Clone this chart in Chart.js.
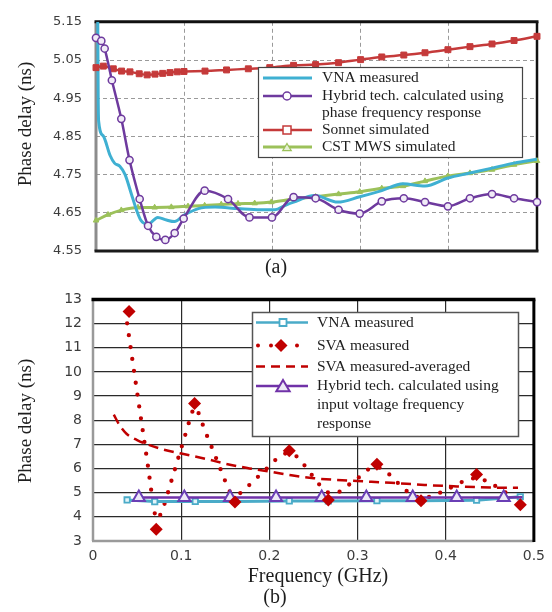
<!DOCTYPE html>
<html><head><meta charset="utf-8">
<script src="https://cdn.jsdelivr.net/npm/chart.js@4.4.1/dist/chart.umd.min.js"></script>
<style>
html,body{margin:0;padding:0;background:#fff;}
#wrap{position:relative;width:552px;height:612px;background:#fff;}
#ca{position:absolute;left:0;top:0;width:552px;height:280px;}
#cb{position:absolute;left:0;top:280px;width:552px;height:332px;}
</style></head><body>
<div id="wrap"><canvas id="ca" width="552" height="280"></canvas><canvas id="cb" width="552" height="332"></canvas></div>
<script>
// ---------- (a) data ----------
const aFreqTicks = [0, 0.1, 0.2, 0.3, 0.4, 0.5];
const aDelayTicks = [4.55, 4.65, 4.75, 4.85, 4.95, 5.05, 5.15];
const aDelayLabels = ['4.55', '4.65', '4.75', '4.85', '4.95', '5.05', '5.15'];
const aLegendText = [['VNA measured'], ['Hybrid tech. calculated using', 'phase frequency response'], ['Sonnet simulated'], ['CST MWS simulated']];

const aVnaF = [0.002, 0.0025, 0.003, 0.008, 0.016, 0.021, 0.027, 0.033, 0.040, 0.046, 0.051, 0.059, 0.070, 0.080, 0.089, 0.100, 0.116, 0.135, 0.161, 0.187, 0.203, 0.214, 0.224, 0.248, 0.274, 0.299, 0.324, 0.348, 0.373, 0.399, 0.424, 0.449, 0.474, 0.500];
const aVnaV = [5.15, 4.95, 4.89, 4.852, 4.80, 4.78, 4.772, 4.75, 4.70, 4.657, 4.63, 4.62, 4.638, 4.631, 4.627, 4.644, 4.661, 4.665, 4.661, 4.658, 4.658, 4.669, 4.678, 4.695, 4.678, 4.692, 4.708, 4.726, 4.720, 4.741, 4.754, 4.767, 4.780, 4.790];

const aHybF = [0, 0.006, 0.0098, 0.018, 0.0287, 0.038, 0.0495, 0.059, 0.0684, 0.0786, 0.0892, 0.0994, 0.1232, 0.1497, 0.174, 0.1995, 0.224, 0.249, 0.275, 0.299, 0.324, 0.349, 0.373, 0.399, 0.424, 0.449, 0.474, 0.500];
const aHybV = [5.108, 5.100, 5.080, 4.997, 4.896, 4.788, 4.686, 4.616, 4.587, 4.579, 4.597, 4.635, 4.708, 4.686, 4.638, 4.638, 4.691, 4.688, 4.658, 4.648, 4.680, 4.688, 4.678, 4.667, 4.688, 4.699, 4.688, 4.678];

const aSonF = [0, 0.0083, 0.0196, 0.029, 0.0385, 0.049, 0.058, 0.0669, 0.0756, 0.0839, 0.0922, 0.0998, 0.1236, 0.148, 0.1727, 0.197, 0.224, 0.249, 0.275, 0.300, 0.324, 0.349, 0.373, 0.399, 0.424, 0.449, 0.474, 0.500];
const aSonV = [5.030, 5.034, 5.027, 5.021, 5.019, 5.014, 5.011, 5.013, 5.015, 5.017, 5.019, 5.020, 5.021, 5.024, 5.027, 5.030, 5.036, 5.038, 5.043, 5.051, 5.058, 5.063, 5.069, 5.077, 5.085, 5.092, 5.101, 5.112];

const aCstF = [0, 0.0136, 0.0287, 0.0476, 0.0665, 0.0854, 0.1043, 0.1232, 0.142, 0.161, 0.1799, 0.1988, 0.224, 0.249, 0.275, 0.299, 0.324, 0.348, 0.373, 0.399, 0.424, 0.449, 0.474, 0.500];
const aCstV = [4.630, 4.645, 4.657, 4.664, 4.664, 4.665, 4.667, 4.669, 4.672, 4.674, 4.675, 4.678, 4.686, 4.692, 4.699, 4.705, 4.714, 4.720, 4.733, 4.746, 4.754, 4.763, 4.776, 4.786];

// ---------- (b) data ----------
const bFreqTicks = [0, 0.1, 0.2, 0.3, 0.4, 0.5];
const bFreqLabels = ['0', '0.1', '0.2', '0.3', '0.4', '0.5'];
const bDelayTicks = [3, 4, 5, 6, 7, 8, 9, 10, 11, 12, 13];
const bDelayLabels = ['3', '4', '5', '6', '7', '8', '9', '10', '11', '12', '13'];
const bLegendText = [['VNA measured'], ['SVA measured'], ['SVA measured-averaged'], ['Hybrid tech. calculated using', 'input voltage frequency', 'response']];

const bVnaF = [0.0387, 0.070, 0.116, 0.161, 0.2226, 0.2669, 0.322, 0.372, 0.435, 0.4846];
const bVnaV = [4.70, 4.63, 4.64, 4.64, 4.66, 4.66, 4.67, 4.67, 4.69, 4.83];

const bSvaF = [0.0409, 0.0717, 0.1152, 0.161, 0.2226, 0.2669, 0.322, 0.372, 0.435, 0.4846];
const bSvaV = [12.5, 3.49, 8.69, 4.61, 6.74, 4.70, 6.18, 4.67, 5.75, 4.50];

const bSvaTraceF = [0.0387, 0.0447, 0.0507, 0.0567, 0.0627, 0.0664, 0.0700, 0.0735, 0.0765, 0.0807, 0.0886, 0.0965, 0.1047, 0.1100, 0.1135, 0.1160, 0.1190, 0.1227, 0.1276, 0.1329, 0.1382, 0.1430, 0.1486, 0.1535, 0.1580, 0.1630, 0.1693, 0.1798, 0.1907, 0.2005, 0.2106, 0.2190, 0.2260, 0.2339, 0.2429, 0.2520, 0.2605, 0.2670, 0.2740, 0.2811, 0.2930, 0.3044, 0.3130, 0.3220, 0.3300, 0.3382, 0.3500, 0.3607, 0.3700, 0.3833, 0.3964, 0.4100, 0.4227, 0.4350, 0.4501, 0.4620, 0.4741];
const bSvaTraceV = [12.01, 10.49, 8.99, 7.50, 6.00, 5.00, 4.15, 3.90, 4.10, 4.49, 5.45, 6.41, 7.40, 8.05, 8.42, 8.52, 8.35, 7.99, 7.51, 7.04, 6.56, 6.12, 5.61, 5.14, 4.95, 4.93, 5.04, 5.41, 5.78, 6.12, 6.47, 6.62, 6.60, 6.40, 5.98, 5.55, 5.18, 5.00, 4.98, 5.07, 5.41, 5.71, 5.98, 6.05, 5.95, 5.68, 5.25, 4.94, 4.82, 4.83, 5.05, 5.28, 5.51, 5.60, 5.41, 5.14, 4.87];

const bSvaAvgF = [0.0236, 0.030, 0.038, 0.050, 0.0755, 0.100, 0.128, 0.150, 0.175, 0.200, 0.225, 0.250, 0.275, 0.300, 0.338, 0.376, 0.413, 0.451, 0.482];
const bSvaAvgV = [8.23, 7.80, 7.44, 7.18, 6.83, 6.62, 6.40, 6.20, 6.02, 5.88, 5.72, 5.60, 5.53, 5.48, 5.41, 5.32, 5.26, 5.21, 5.20];

const bHybF = [0.052, 0.1036, 0.1554, 0.2076, 0.2594, 0.310, 0.3626, 0.4125, 0.4658, 0.487];
const bHybV = [4.80, 4.80, 4.80, 4.80, 4.80, 4.80, 4.80, 4.80, 4.80, 4.81];

// ---------- helpers ----------
const SERIF = '"Liberation Serif", "Times New Roman", serif';
const SANS = '"DejaVu Sans", "Liberation Sans", sans-serif';
const pts = (fs, vs) => fs.map((f, i) => ({x: f, y: vs[i]}));

function seg(ctx, x1, y1, x2, y2, color, w, dash, cap) {
  ctx.save(); ctx.beginPath(); ctx.strokeStyle = color; ctx.lineWidth = w; ctx.lineCap = cap || 'butt';
  ctx.setLineDash(dash || []); ctx.moveTo(x1, y1); ctx.lineTo(x2, y2); ctx.stroke(); ctx.restore();
}
function marker(ctx, style, x, y, r, fill, stroke, lw) {
  ctx.save(); ctx.beginPath();
  if (style === 'circle') ctx.arc(x, y, r, 0, Math.PI * 2);
  else if (style === 'rect') ctx.rect(x - r, y - r, 2 * r, 2 * r);
  else if (style === 'triangle') { ctx.moveTo(x, y - r); ctx.lineTo(x + r * 0.95, y + r * 0.6); ctx.lineTo(x - r * 0.95, y + r * 0.6); ctx.closePath(); }
  else if (style === 'diamond') { ctx.moveTo(x, y - r); ctx.lineTo(x + r, y); ctx.lineTo(x, y + r); ctx.lineTo(x - r, y); ctx.closePath(); }
  if (fill) { ctx.fillStyle = fill; ctx.fill(); }
  if (stroke) { ctx.strokeStyle = stroke; ctx.lineWidth = lw; ctx.stroke(); }
  ctx.restore();
}
function text(ctx, str, x, y, font, align, rot) {
  ctx.save(); ctx.font = font; ctx.fillStyle = '#1e1e1e'; ctx.textAlign = align || 'left'; ctx.textBaseline = 'middle';
  ctx.translate(x, y); if (rot) ctx.rotate(rot); ctx.fillText(str, 0, 0); ctx.restore();
}
function edgeless(color) {
  return c => (c.index === 0 || c.index === c.chart.scales[c.scale.id].ticks.length - 1) ? 'rgba(0,0,0,0)' : color;
}

const COL = {
  cyan: '#3fb0d2', purple: '#6e3a9e', red: '#c53a3a', green: '#9cc15a',
  bred: '#c00000', bcyan: '#4aabc8', bpurple: '#7032a8'
};

// ---------- chart (a) ----------
const plugA = {
  id: 'plugA',
  beforeDatasetsDraw(chart) {
    const {ctx, chartArea: a} = chart;
    seg(ctx, a.left, a.top, a.left, a.bottom, '#8c8c8c', 3);
    seg(ctx, a.left - 1.5, a.top, a.right + 1.5, a.top, '#111', 3);
    seg(ctx, a.right, a.top, a.right, a.bottom, '#111', 2.5);
    seg(ctx, a.left - 1.5, a.bottom, a.right + 1.5, a.bottom, '#1a1a1a', 3);
  },
  afterDraw(chart) {
    const ctx = chart.ctx;
    ctx.save(); ctx.fillStyle = '#fff'; ctx.fillRect(258, 67, 264, 90);
    ctx.strokeStyle = '#444'; ctx.lineWidth = 1.2; ctx.strokeRect(258.5, 67.5, 264, 90); ctx.restore();
    const L = 263, R = 312, M = 287, TX = 322;
    const f16 = '15.5px ' + SERIF;
    seg(ctx, L, 78, R, 78, COL.cyan, 3);
    text(ctx, aLegendText[0][0], TX, 78, f16);
    seg(ctx, L, 96, R, 96, COL.purple, 2.5);
    marker(ctx, 'circle', M, 96, 4, '#fff', COL.purple, 1.5);
    text(ctx, aLegendText[1][0], TX, 96, f16);
    text(ctx, aLegendText[1][1], TX, 113, f16);
    seg(ctx, L, 130, R, 130, COL.red, 2.5);
    marker(ctx, 'rect', M, 130, 4, '#fff', COL.red, 1.5);
    text(ctx, aLegendText[2][0], TX, 130, f16);
    seg(ctx, L, 147, R, 147, COL.green, 3);
    marker(ctx, 'triangle', M, 148, 4.5, '#e6f0d5', COL.green, 1.2);
    text(ctx, aLegendText[3][0], TX, 147, f16);
    text(ctx, 'Phase delay (ns)', 26, 124, '19px ' + SERIF, 'center', -Math.PI / 2);
    text(ctx, '(a)', 276, 268, '20px ' + SERIF, 'center');
  }
};

new Chart(document.getElementById('ca'), {
  type: 'line',
  data: {
    datasets: [
      {label: 'Hybrid', data: pts(aHybF, aHybV), borderColor: COL.purple, borderWidth: 2.5, pointStyle: 'circle', pointRadius: 3.6, pointBorderWidth: 1.5, pointBorderColor: COL.purple, pointBackgroundColor: '#f1ecf7', cubicInterpolationMode: 'monotone', clip: false},
      {label: 'Sonnet', data: pts(aSonF, aSonV), borderColor: COL.red, borderWidth: 2.5, pointStyle: 'rect', pointRadius: 4.2, pointBorderWidth: 1, pointBorderColor: COL.red, pointBackgroundColor: COL.red, cubicInterpolationMode: 'monotone', clip: false},
      {label: 'VNA', data: pts(aVnaF, aVnaV), borderColor: COL.cyan, borderWidth: 3, pointRadius: 0, cubicInterpolationMode: 'monotone'},
      {label: 'CST', data: pts(aCstF, aCstV), borderColor: COL.green, borderWidth: 3, pointStyle: 'triangle', pointRadius: 3.2, pointBorderWidth: 1, pointBorderColor: COL.green, pointBackgroundColor: COL.green, cubicInterpolationMode: 'monotone', clip: false}
    ]
  },
  options: {
    responsive: false, animation: false, devicePixelRatio: 1,
    layout: {padding: {left: 0, right: 15, top: 16, bottom: 0}},
    plugins: {legend: {display: false}, tooltip: {enabled: false}},
    scales: {
      x: {type: 'linear', min: 0, max: 0.5,
        afterBuildTicks: s => { s.ticks = aFreqTicks.map(v => ({value: v})); },
        afterFit: s => { s.height = 29; },
        ticks: {display: false},
        grid: {color: edgeless('#9a9a9a'), lineWidth: 1, drawTicks: false},
        border: {display: false, dash: [4, 3]}},
      y: {type: 'linear', min: 4.55, max: 5.15,
        afterBuildTicks: s => { s.ticks = aDelayTicks.map(v => ({value: v})); },
        afterFit: s => { s.width = 96; },
        ticks: {callback: (v, i) => aDelayLabels[i], font: {family: SANS, size: 13}, color: '#3c3c3c', padding: 14},
        grid: {color: edgeless('#9a9a9a'), lineWidth: 1, drawTicks: false},
        border: {display: false, dash: [4, 3]}}
    }
  },
  plugins: [plugA]
});

// ---------- chart (b) ----------
const OFF = 280;
const plugB = {
  id: 'plugB',
  beforeDatasetsDraw(chart) {
    const {ctx, chartArea: a} = chart;
    seg(ctx, a.left, a.top, a.left, a.bottom, '#9a9a9a', 2.5);
    seg(ctx, a.left - 1, a.bottom, a.right, a.bottom, '#9a9a9a', 2.5);
    seg(ctx, a.left - 1.5, a.top, a.right + 1.5, a.top, '#000', 3.5);
    seg(ctx, a.right, a.top, a.right, a.bottom + 1, '#000', 3);
  },
  afterDraw(chart) {
    const ctx = chart.ctx;
    const y0 = 312 - OFF;
    ctx.save(); ctx.fillStyle = '#fff'; ctx.fillRect(252, y0, 266, 124);
    ctx.strokeStyle = '#555'; ctx.lineWidth = 1.5; ctx.strokeRect(252.5, y0 + 0.5, 266, 124); ctx.restore();
    const L = 256, R = 308, M = 283, TX = 317;
    const f16 = '15.5px ' + SERIF;
    let y = 322.5 - OFF;
    seg(ctx, L, y, R, y, COL.bcyan, 2.5);
    marker(ctx, 'rect', M, y, 3.5, '#fff', COL.bcyan, 1.8);
    text(ctx, bLegendText[0][0], TX, y, f16);
    y = 345.5 - OFF;
    seg(ctx, L + 2, y, R + 2, y, COL.bred, 4, [0, 13], 'round');
    marker(ctx, 'diamond', M - 2, y, 6.5, COL.bred, null, 0);
    text(ctx, bLegendText[1][0], TX, y, f16);
    y = 366.5 - OFF;
    seg(ctx, L, y, R, y, COL.bred, 2.5, [9, 6]);
    text(ctx, bLegendText[2][0], TX, y, f16);
    y = 386 - OFF;
    seg(ctx, L, y, R, y, COL.bpurple, 2.5);
    marker(ctx, 'triangle', M, y + 1, 7, '#ece8f6', COL.bpurple, 2);
    text(ctx, bLegendText[3][0], TX, y, f16);
    text(ctx, bLegendText[3][1], TX, 404.5 - OFF, f16);
    text(ctx, bLegendText[3][2], TX, 423.5 - OFF, f16);
    text(ctx, 'Phase delay (ns)', 26, 421 - OFF, '19px ' + SERIF, 'center', -Math.PI / 2);
    text(ctx, 'Frequency (GHz)', 318, 577 - OFF, '20px ' + SERIF, 'center');
    text(ctx, '(b)', 275, 598 - OFF, '20px ' + SERIF, 'center');
  }
};

new Chart(document.getElementById('cb'), {
  type: 'line',
  data: {
    datasets: [
      {label: 'SVA measured', data: pts(bSvaF, bSvaV), showLine: false, pointStyle: 'rectRot', pointRadius: 6.5, pointBorderWidth: 0, pointBackgroundColor: COL.bred, pointBorderColor: COL.bred, clip: false},
      {label: 'Hybrid', data: pts(bHybF, bHybV), borderColor: COL.bpurple, borderWidth: 2.5, pointStyle: 'triangle', pointRadius: bHybF.map((f, i) => i === bHybF.length - 1 ? 0 : 7), pointBorderWidth: 2, pointBorderColor: '#6a3fb5', pointBackgroundColor: '#ece8f6', tension: 0},
      {label: 'VNA', data: pts(bVnaF, bVnaV), borderColor: COL.bcyan, borderWidth: 3, pointStyle: 'rect', pointRadius: 3.8, pointBorderWidth: 1.8, pointBorderColor: COL.bcyan, pointBackgroundColor: '#e4f4f9', tension: 0},
      {label: 'SVA trace', data: pts(bSvaTraceF, bSvaTraceV), borderColor: COL.bred, borderWidth: 4.3, borderDash: [0, 12], borderCapStyle: 'round', pointRadius: 0, cubicInterpolationMode: 'monotone'},
      {label: 'SVA averaged', data: pts(bSvaAvgF, bSvaAvgV), borderColor: COL.bred, borderWidth: 2.5, borderDash: [10, 6], pointRadius: 0, cubicInterpolationMode: 'monotone'}
    ]
  },
  options: {
    responsive: false, animation: false, devicePixelRatio: 1,
    layout: {padding: {left: 0, right: 15, top: 15, bottom: 0}},
    plugins: {legend: {display: false}, tooltip: {enabled: false}},
    scales: {
      x: {type: 'linear', min: 0, max: 0.5,
        afterBuildTicks: s => { s.ticks = bFreqTicks.map(v => ({value: v})); },
        afterFit: s => { s.height = 71; },
        ticks: {callback: (v, i) => bFreqLabels[i], font: {family: SANS, size: 14}, color: '#3c3c3c', padding: 7, maxRotation: 0, autoSkip: false},
        grid: {color: edgeless('#2a2a2a'), lineWidth: 1.2, drawTicks: false},
        border: {display: false}},
      y: {type: 'linear', min: 3, max: 13,
        afterBuildTicks: s => { s.ticks = bDelayTicks.map(v => ({value: v})); },
        afterFit: s => { s.width = 93; },
        ticks: {callback: (v, i) => bDelayLabels[i], font: {family: SANS, size: 14}, color: '#3c3c3c', padding: 11, autoSkip: false},
        grid: {color: edgeless('#2a2a2a'), lineWidth: 1.2, drawTicks: false},
        border: {display: false}}
    }
  },
  plugins: [plugB]
});
</script>
</body></html>
